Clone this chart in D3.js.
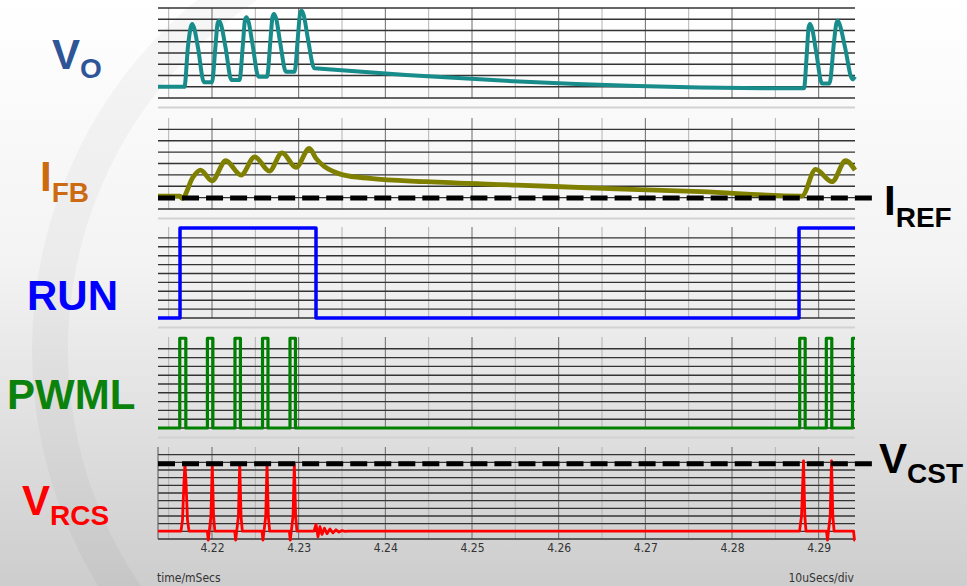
<!DOCTYPE html>
<html>
<head>
<meta charset="utf-8">
<script src="https://cdn.jsdelivr.net/npm/d3@7"></script>
<style>
  html, body { margin: 0; padding: 0; background: #fff; }
  svg { display: block; }
  .sig { font-family: "Liberation Sans", Arial, sans-serif; font-weight: bold; }
  .tick text, .foot { font-family: "Liberation Sans Narrow", "DejaVu Sans Condensed", "Arial Narrow", sans-serif; fill: #333; }
</style>
</head>
<body>
<svg id="chart" width="967" height="586"></svg>
<script>
// time axis (ms)
var ticks = [4.22, 4.23, 4.24, 4.25, 4.26, 4.27, 4.28, 4.29];
var minorTicks = [4.215, 4.225, 4.235, 4.245, 4.255, 4.265, 4.275, 4.285];
var timeRange = [4.21377, 4.29419];

// traces: [time ms, value in grid divisions]
var voData = [
   [4.21377, 1.0], [4.21682, 1.0], [4.21723, 4.6], [4.21755, 6.3], [4.21772, 6.58], [4.21795, 6.2], [4.21838, 4.5], [4.21908, 1.4],
   [4.22000, 1.4], [4.22040, 4.6], [4.22064, 6.6], [4.22081, 6.87], [4.22105, 6.5], [4.22156, 4.5], [4.22225, 1.6],
   [4.22317, 1.6], [4.22358, 4.9], [4.22380, 6.9], [4.22397, 7.17], [4.22421, 6.8], [4.22467, 4.8], [4.22537, 1.9],
   [4.22635, 1.9], [4.22675, 5.2], [4.22698, 7.2], [4.22715, 7.47], [4.22739, 7.1], [4.22785, 5.0], [4.22854, 2.34],
   [4.22953, 2.34], [4.22992, 5.5], [4.23016, 7.5], [4.23033, 7.76], [4.23057, 7.4], [4.23108, 5.2], [4.23181, 2.64],
   [4.28830, 0.86], [4.28865, 4.2], [4.28884, 6.3], [4.28900, 6.58], [4.28923, 6.2], [4.28969, 4.2], [4.29038, 1.3],
   [4.29125, 1.3], [4.29177, 5.0], [4.29203, 6.6], [4.29220, 6.87], [4.29244, 6.5], [4.29304, 4.5], [4.29390, 1.66], [4.29419, 1.9]
];

var ifbData = [
   [4.21377, 1.14], [4.21631, 1.14], [4.21654, 0.94], [4.21781, 2.8], [4.21867, 3.42],
   [4.22000, 2.48], [4.22159, 4.24], [4.22335, 2.98], [4.22493, 4.59], [4.22662, 3.33],
   [4.22808, 4.94], [4.22969, 3.66], [4.23123, 5.32], [4.23200, 4.45], [4.23298, 3.72],
   [4.23408, 3.28], [4.23511, 3.0], [4.23823, 2.69], [4.24463, 2.4], [4.25519, 2.1],
   [4.26581, 1.8], [4.27642, 1.52], [4.28807, 1.14], [4.28965, 3.48], [4.29154, 2.4],
   [4.29311, 4.24], [4.29419, 3.42]
];
var iRefLevel = 0.97;

var runData = [
   [4.21377, 0], [4.21631, 10.1], [4.23200, 0], [4.28773, 10.1], [4.29419, 10.1]
];

var pwmlData = [
   [4.21377, 0], [4.21628, 10.2], [4.21698, 0], [4.21947, 10.2], [4.22010, 0],
   [4.22265, 10.2], [4.22328, 0], [4.22583, 10.2], [4.22646, 0], [4.22900, 10.2],
   [4.22963, 0], [4.28781, 10.2], [4.28844, 0], [4.29088, 10.2], [4.29151, 0],
   [4.29390, 10.2], [4.29419, 10.2]
];

var vrcsData = [
   [4.21377, 1.03], [4.21642, 1.03], [4.21660, 2.5], [4.21677, 7.5], [4.21688, 9.83], [4.21700, 7.5], [4.21717, 2.5], [4.21735, 1.03],
   [4.21946, 1.03], [4.21957, -0.15], [4.21969, 1.03], [4.21988, 3], [4.22003, 9.83], [4.22018, 3], [4.22033, 1.03],
   [4.22262, 1.03], [4.22273, -0.15], [4.22285, 1.03], [4.22305, 3], [4.22320, 9.83], [4.22335, 3], [4.22350, 1.03],
   [4.22577, 1.03], [4.22588, -0.15], [4.22600, 1.03], [4.22620, 3], [4.22635, 9.83], [4.22650, 3], [4.22665, 1.03],
   [4.22892, 1.03], [4.22903, -0.15], [4.22915, 1.03], [4.22935, 3], [4.22950, 9.83], [4.22965, 3], [4.22980, 1.03],
   [4.23177, 1.03], [4.23200, 1.9], [4.23223, 0.3], [4.23246, 1.6], [4.23269, 0.6], [4.23298, 1.4], [4.23327, 0.7],
   [4.23361, 1.3], [4.23396, 0.8], [4.23431, 1.2], [4.23465, 0.9], [4.23500, 1.1], [4.23535, 1.0], [4.23569, 1.03],
   [4.28779, 1.03], [4.28802, 3], [4.28825, 10.2], [4.28840, 3], [4.28854, 1.03],
   [4.29090, 1.03], [4.29102, -0.15], [4.29113, 1.03], [4.29133, 3], [4.29148, 10.2], [4.29163, 3], [4.29178, 1.03],
   [4.29402, 1.03], [4.29413, -0.15], [4.29419, -0.15]
];
var vCstLevel = 9.83;

var W = 967, H = 586;
var svg = d3.select("#chart");

// background
var defs = svg.append("defs");
var grad = defs.append("linearGradient").attr("id", "bg")
   .attr("x1", 0).attr("y1", 0).attr("x2", 0).attr("y2", 1);
grad.append("stop").attr("offset", "0%").attr("stop-color", "#ffffff");
grad.append("stop").attr("offset", "45%").attr("stop-color", "#f3f3f3");
grad.append("stop").attr("offset", "100%").attr("stop-color", "#cdcdcd");
svg.append("rect").attr("width", W).attr("height", H).attr("fill", "url(#bg)");

// faint watermark arc, left side only
var wm = d3.arc()
   .innerRadius(418).outerRadius(454)
   .startAngle(-2.6).endAngle(-0.55);
svg.append("path")
   .attr("transform", "translate(486,350)")
   .attr("d", wm())
   .attr("fill", "#000").attr("fill-opacity", 0.03);

var x = d3.scaleLinear().domain(timeRange).range([158, 855]);

var panels = [
   { top: 8,   bottom: 98,  divs: 8,  topLine: true,  data: voData,   color: "#188b8b", width: 4,   curve: d3.curveMonotoneX },
   { top: 118, bottom: 209, divs: 8,  topLine: false, data: ifbData,  color: "#808000", width: 4.8, curve: d3.curveMonotoneX },
   { top: 229, bottom: 318, divs: 10, topLine: false, data: runData,  color: "#0000ff", width: 3.5, curve: d3.curveStepAfter },
   { top: 340, bottom: 428, divs: 10, topLine: false, data: pwmlData, color: "#008000", width: 3.2, curve: d3.curveStepAfter },
   { top: 447, bottom: 539, divs: 12, topLine: false, data: vrcsData, color: "#ff0000", width: 2.8, curve: d3.curveLinear }
];
var vTops = [8, 118, 227, 337, 447];

panels.forEach(function(p, i) {
   p.y = d3.scaleLinear().domain([0, p.divs]).range([p.bottom, p.top]);
   var g = svg.append("g");

   // light separator under each panel
   if (i < 4) {
      g.append("line")
         .attr("x1", 158).attr("x2", 855)
         .attr("y1", p.bottom + 9.5).attr("y2", p.bottom + 9.5)
         .attr("stroke", "#d2d2d2").attr("stroke-width", 2);
   }

   // vertical grid
   g.selectAll(".minor").data(minorTicks).enter().append("line")
      .attr("x1", function(d) { return x(d); }).attr("x2", function(d) { return x(d); })
      .attr("y1", vTops[i]).attr("y2", p.bottom)
      .attr("stroke", "#b4b4b4").attr("stroke-width", 1);
   g.selectAll(".major").data(ticks).enter().append("line")
      .attr("x1", function(d) { return x(d); }).attr("x2", function(d) { return x(d); })
      .attr("y1", vTops[i]).attr("y2", p.bottom)
      .attr("stroke", "#6a6a6a").attr("stroke-width", 1);

   // horizontal grid
   var rows = d3.range(0, p.topLine ? p.divs + 1 : p.divs);
   g.selectAll(".row").data(rows).enter().append("line")
      .attr("x1", 158).attr("x2", 855)
      .attr("y1", function(d) { return p.y(d); }).attr("y2", function(d) { return p.y(d); })
      .attr("stroke", "#333").attr("stroke-width", 1.4);

   if (i == 4) {
      g.append("line").attr("x1", 158).attr("x2", 158)
         .attr("y1", vTops[i]).attr("y2", p.bottom)
         .attr("stroke", "#555").attr("stroke-width", 1);
   }

   var line = d3.line()
      .x(function(d) { return x(d[0]); })
      .y(function(d) { return p.y(d[1]); })
      .curve(p.curve);

   g.append("path").datum(p.data)
      .attr("d", line)
      .attr("fill", "none")
      .attr("stroke", p.color)
      .attr("stroke-width", p.width)
      .attr("stroke-linejoin", "round")
      .attr("stroke-linecap", "butt");
});

// reference levels
function refLine(p, level) {
   svg.append("line")
      .attr("x1", x(timeRange[0])).attr("x2", x(timeRange[1]) + 17)
      .attr("y1", p.y(level)).attr("y2", p.y(level))
      .attr("stroke", "#000").attr("stroke-width", 5)
      .attr("stroke-dasharray", "17,7.03");
}
refLine(panels[1], iRefLevel);
refLine(panels[4], vCstLevel);

// time axis labels
var axis = d3.axisBottom(x).tickValues(ticks).tickSize(0).tickPadding(4)
   .tickFormat(d3.format(".2f"));
var ax = svg.append("g").attr("transform", "translate(0,539)").call(axis);
ax.select(".domain").remove();
ax.selectAll("text").attr("font-size", 12).attr("fill", "#333");

svg.append("text").attr("class", "foot")
   .attr("x", 157).attr("y", 582).attr("font-size", 12).text("time/mSecs");
svg.append("text").attr("class", "foot")
   .attr("x", 854).attr("y", 582).attr("font-size", 12).attr("text-anchor", "end").text("10uSecs/div");

// signal names
function sigLabel(xp, yp, main, sub, subDy, color) {
   var t = svg.append("text").attr("class", "sig")
      .attr("x", xp).attr("y", yp).attr("fill", color);
   t.append("tspan").attr("font-size", 42).text(main);
   if (sub) {
      t.append("tspan").attr("font-size", 28).attr("dy", subDy).text(sub);
   }
}
sigLabel(52, 69, "V", "O", 9, "#2e5597");
sigLabel(40, 191, "I", "FB", 11, "#cc6a12");
sigLabel(27, 310, "RUN", null, 0, "#0000ff");
sigLabel(7, 409, "PWML", null, 0, "#0b820b");
sigLabel(22, 515, "V", "RCS", 10, "#ff0000");
sigLabel(884, 215, "I", "REF", 12, "#000");
sigLabel(879, 473, "V", "CST", 10, "#000");
</script>
</body>
</html>
